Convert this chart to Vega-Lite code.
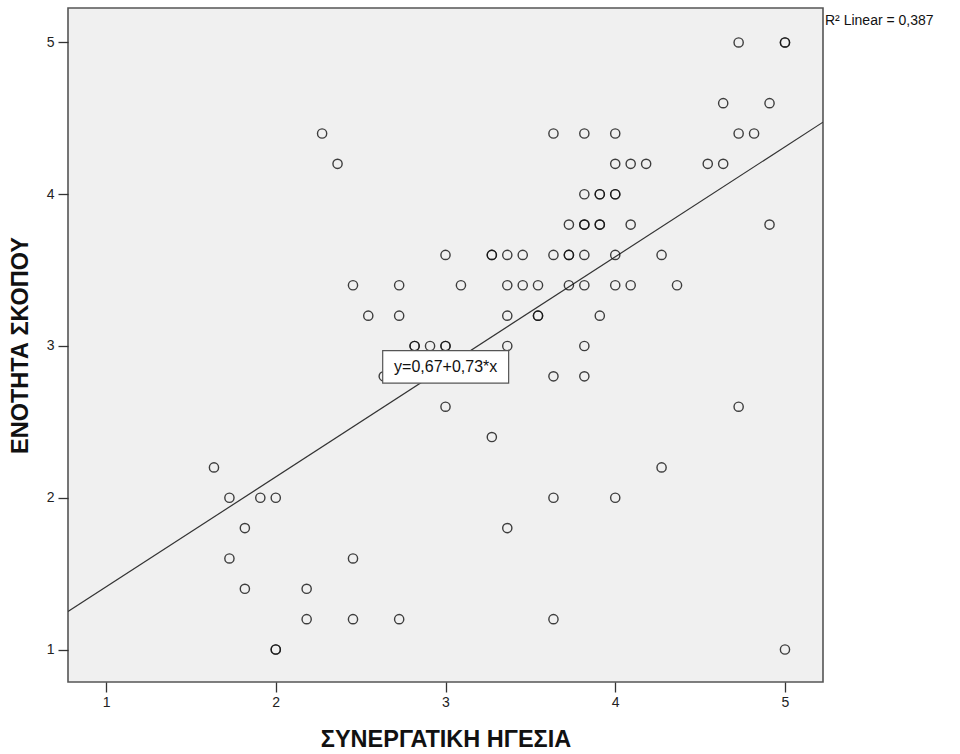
{
  "$schema": "https://vega.github.io/schema/vega-lite/v6.json",
  "width": 755,
  "height": 674,
  "autosize": {"type": "none"},
  "padding": {"left": 68, "top": 8, "right": 137, "bottom": 72},
  "background": "white",
  "config": {
    "view": {"fill": "#f0f0f0", "stroke": "#555555", "strokeWidth": 1.6},
    "font": "Liberation Sans"
  },
  "datasets": {
    "pts": [
      {"x": 4.727, "y": 5.0}, {"x": 5.0, "y": 5.0}, {"x": 5.0, "y": 5.0},
      {"x": 4.636, "y": 4.6}, {"x": 4.909, "y": 4.6},
      {"x": 2.273, "y": 4.4}, {"x": 3.636, "y": 4.4}, {"x": 3.818, "y": 4.4}, {"x": 4.0, "y": 4.4}, {"x": 4.727, "y": 4.4}, {"x": 4.818, "y": 4.4},
      {"x": 2.364, "y": 4.2}, {"x": 4.0, "y": 4.2}, {"x": 4.091, "y": 4.2}, {"x": 4.182, "y": 4.2}, {"x": 4.545, "y": 4.2}, {"x": 4.636, "y": 4.2},
      {"x": 3.818, "y": 4.0}, {"x": 3.909, "y": 4.0}, {"x": 3.909, "y": 4.0}, {"x": 4.0, "y": 4.0}, {"x": 4.0, "y": 4.0},
      {"x": 3.727, "y": 3.8}, {"x": 3.818, "y": 3.8}, {"x": 3.818, "y": 3.8}, {"x": 3.909, "y": 3.8}, {"x": 3.909, "y": 3.8}, {"x": 4.091, "y": 3.8}, {"x": 4.909, "y": 3.8},
      {"x": 3.0, "y": 3.6}, {"x": 3.273, "y": 3.6}, {"x": 3.273, "y": 3.6}, {"x": 3.364, "y": 3.6}, {"x": 3.455, "y": 3.6}, {"x": 3.636, "y": 3.6}, {"x": 3.727, "y": 3.6}, {"x": 3.727, "y": 3.6}, {"x": 3.818, "y": 3.6}, {"x": 4.0, "y": 3.6}, {"x": 4.273, "y": 3.6},
      {"x": 2.455, "y": 3.4}, {"x": 2.727, "y": 3.4}, {"x": 3.091, "y": 3.4}, {"x": 3.364, "y": 3.4}, {"x": 3.455, "y": 3.4}, {"x": 3.545, "y": 3.4}, {"x": 3.727, "y": 3.4}, {"x": 3.818, "y": 3.4}, {"x": 4.0, "y": 3.4}, {"x": 4.091, "y": 3.4}, {"x": 4.364, "y": 3.4},
      {"x": 2.545, "y": 3.2}, {"x": 2.727, "y": 3.2}, {"x": 3.364, "y": 3.2}, {"x": 3.545, "y": 3.2}, {"x": 3.545, "y": 3.2}, {"x": 3.909, "y": 3.2},
      {"x": 2.818, "y": 3.0}, {"x": 2.818, "y": 3.0}, {"x": 2.909, "y": 3.0}, {"x": 3.0, "y": 3.0}, {"x": 3.0, "y": 3.0}, {"x": 3.364, "y": 3.0}, {"x": 3.818, "y": 3.0},
      {"x": 2.636, "y": 2.8}, {"x": 3.636, "y": 2.8}, {"x": 3.818, "y": 2.8},
      {"x": 3.0, "y": 2.6}, {"x": 4.727, "y": 2.6},
      {"x": 3.273, "y": 2.4},
      {"x": 1.636, "y": 2.2}, {"x": 4.273, "y": 2.2},
      {"x": 1.727, "y": 2.0}, {"x": 1.909, "y": 2.0}, {"x": 2.0, "y": 2.0}, {"x": 3.636, "y": 2.0}, {"x": 4.0, "y": 2.0},
      {"x": 1.818, "y": 1.8}, {"x": 3.364, "y": 1.8},
      {"x": 1.727, "y": 1.6}, {"x": 2.455, "y": 1.6},
      {"x": 1.818, "y": 1.4}, {"x": 2.182, "y": 1.4},
      {"x": 2.182, "y": 1.2}, {"x": 2.455, "y": 1.2}, {"x": 2.727, "y": 1.2}, {"x": 3.636, "y": 1.2},
      {"x": 2.0, "y": 1.0}, {"x": 2.0, "y": 1.0}, {"x": 5.0, "y": 1.0}
    ],
    "fit": [
      {"x": 0.776, "y": 1.25},
      {"x": 5.224, "y": 4.475}
    ],
    "eqbox": [
      {"x": 2.63, "x2": 3.372, "y": 2.755, "y2": 2.97, "xc": 3.001, "yc": 2.862, "label": "y=0,67+0,73*x"}
    ],
    "rsq": [
      {"x": 5.224, "y": 5.14, "label": "R² Linear = 0,387"}
    ]
  },
  "layer": [
    {
      "data": {"name": "fit"},
      "mark": {"type": "line", "color": "#333333", "strokeWidth": 1.2, "clip": true},
      "encoding": {
        "x": {
          "field": "x", "type": "quantitative",
          "scale": {"domain": [0.776, 5.224], "nice": false, "zero": false},
          "axis": {
            "values": [1, 2, 3, 4, 5], "format": "d", "grid": false, "domain": false,
            "tickSize": 10, "tickColor": "#333333", "tickWidth": 1.3,
            "labelFontSize": 14, "labelColor": "#222222", "labelPadding": 3,
            "title": "ΣΥΝΕΡΓΑΤΙΚΗ ΗΓΕΣΙΑ", "titleFontSize": 23.5, "titleFontWeight": "bold",
            "titleColor": "#111111", "titlePadding": 18
          }
        },
        "y": {
          "field": "y", "type": "quantitative",
          "scale": {"domain": [0.786, 5.227], "nice": false, "zero": false},
          "axis": {
            "values": [1, 2, 3, 4, 5], "format": "d", "grid": false, "domain": false,
            "tickSize": 10, "tickColor": "#333333", "tickWidth": 1.3,
            "labelFontSize": 14, "labelColor": "#222222", "labelPadding": 4,
            "title": "ΕΝΟΤΗΤΑ ΣΚΟΠΟΥ", "titleFontSize": 23.5, "titleFontWeight": "bold",
            "titleColor": "#111111", "titlePadding": 14
          }
        }
      }
    },
    {
      "data": {"name": "pts"},
      "mark": {"type": "point", "shape": "circle", "filled": false, "stroke": "#111111", "strokeWidth": 1.4, "size": 85, "opacity": 0.8},
      "encoding": {
        "x": {"field": "x", "type": "quantitative"},
        "y": {"field": "y", "type": "quantitative"}
      }
    },
    {
      "data": {"name": "eqbox"},
      "mark": {"type": "rect", "fill": "white", "stroke": "#555555", "strokeWidth": 1.2},
      "encoding": {
        "x": {"field": "x", "type": "quantitative"},
        "x2": {"field": "x2"},
        "y": {"field": "y", "type": "quantitative"},
        "y2": {"field": "y2"}
      }
    },
    {
      "data": {"name": "eqbox"},
      "mark": {"type": "text", "fontSize": 16, "color": "#111111", "align": "center", "baseline": "middle"},
      "encoding": {
        "x": {"field": "xc", "type": "quantitative"},
        "y": {"field": "yc", "type": "quantitative"},
        "text": {"field": "label"}
      }
    },
    {
      "data": {"name": "rsq"},
      "mark": {"type": "text", "fontSize": 14, "color": "#111111", "align": "left", "baseline": "middle", "dx": 2},
      "encoding": {
        "x": {"field": "x", "type": "quantitative"},
        "y": {"field": "y", "type": "quantitative"},
        "text": {"field": "label"}
      }
    }
  ]
}
